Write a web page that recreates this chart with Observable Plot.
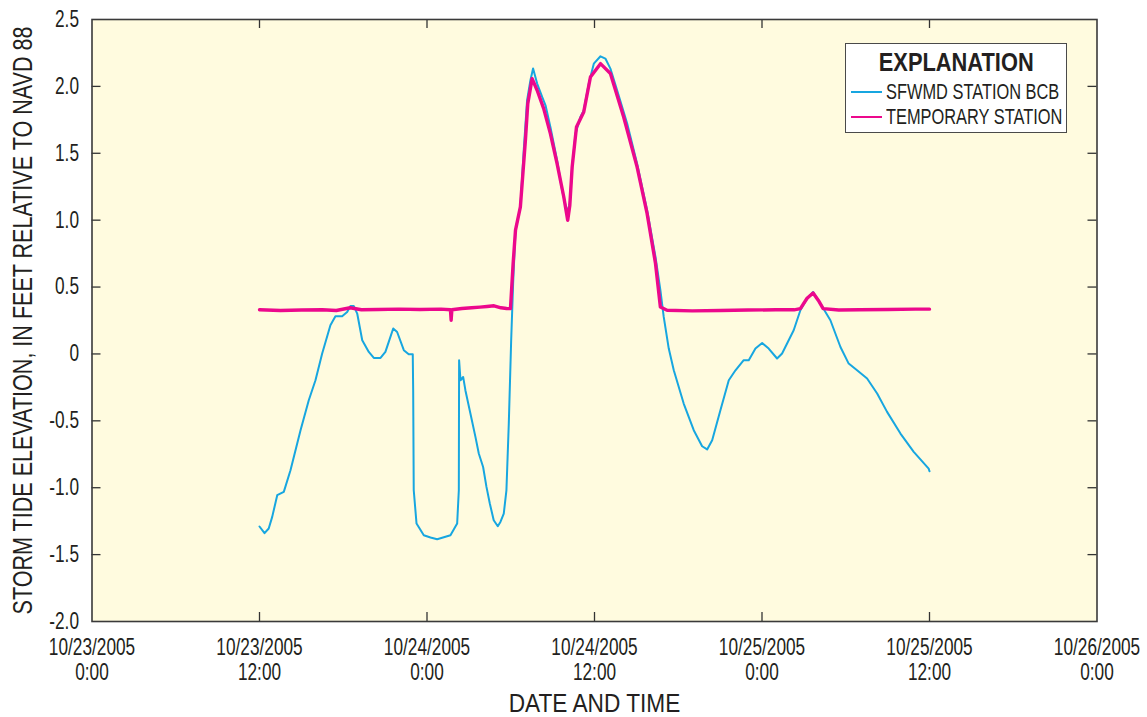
<!DOCTYPE html>
<html>
<head>
<meta charset="utf-8">
<script src="https://cdn.jsdelivr.net/npm/d3@7"></script>
<script src="https://cdn.jsdelivr.net/npm/@observablehq/plot@0.6"></script>
<style>
  html, body { margin: 0; padding: 0; background: #ffffff; }
  #wrap { position: relative; width: 1147px; height: 717px; }
  #legend {
    position: absolute; left: 845px; top: 43px; width: 222px; height: 90px; box-sizing: border-box;
    background: #ffffff; border: 1.5px solid #4a4a4a;
    font-family: "Liberation Sans", Arial, sans-serif; color: #231f20;
  }
  #legend .title { position: absolute; left: 0; width: 100%; top: 6px; text-align: center;
    font-weight: bold; font-size: 26px; line-height: 25px; white-space: nowrap; }
  #legend .title span { display: inline-block; transform: scaleX(0.84); transform-origin: center center; }
  #legend .sw { position: absolute; left: 5px; width: 31px; height: 0; border-top: 2px solid; }
  #legend .lab { position: absolute; left: 40px; font-size: 22px; line-height: 22px; white-space: nowrap;
    transform: scaleX(0.745); transform-origin: left center; }
</style>
</head>
<body>
<div id="wrap"></div>
<script>
// hours after 10/23/2005 0:00, water level (ft, NAVD 88)
const sfwmdHours = [12.0,12.36,12.66,12.91,13.27,13.74,14.22,14.94,15.53,16.01,16.49,17.08,17.44,17.92,18.28,18.52,18.75,19.00,19.36,19.83,20.19,20.67,21.02,21.26,21.58,21.86,22.34,22.69,22.98,23.01,23.05,23.25,23.77,24.25,24.73,25.68,26.16,26.28,26.29,26.30,26.40,26.59,26.75,27.11,27.47,27.71,28.02,28.26,28.50,28.78,29.07,29.26,29.50,29.69,29.86,30.03,30.17,30.34,30.69,30.93,31.17,31.41,31.60,31.89,32.25,32.49,32.84,33.32,33.68,34.04,34.23,34.40,34.64,34.99,35.23,35.59,35.95,36.43,36.78,37.14,37.62,38.34,39.05,39.77,40.37,40.72,40.96,41.32,41.68,42.39,43.11,43.71,44.07,44.43,45.02,45.62,46.10,46.69,47.05,47.53,48.01,48.48,49.08,49.44,50.27,50.75,51.23,51.66,52.18,52.90,53.62,54.21,54.81,55.53,56.25,56.96,57.92,58.87,59.94,60.0];
const sfwmdValues = [-1.29,-1.34,-1.305,-1.218,-1.056,-1.031,-0.869,-0.570,-0.346,-0.197,0.003,0.214,0.282,0.282,0.314,0.359,0.359,0.302,0.102,0.015,-0.030,-0.030,0.015,0.090,0.190,0.164,0.028,-0.002,-0.002,-0.271,-1.019,-1.268,-1.355,-1.372,-1.385,-1.355,-1.268,-1.019,-0.520,-0.047,-0.197,-0.172,-0.271,-0.445,-0.620,-0.744,-0.845,-0.994,-1.118,-1.243,-1.288,-1.256,-1.193,-1.019,-0.520,0.102,0.526,0.925,1.099,1.522,1.896,2.046,2.133,2.021,1.921,1.859,1.697,1.448,1.223,1.061,1.124,1.398,1.647,1.771,1.821,2.021,2.170,2.225,2.208,2.133,1.971,1.722,1.423,1.074,0.725,0.476,0.277,0.040,-0.122,-0.371,-0.570,-0.690,-0.714,-0.645,-0.421,-0.197,-0.122,-0.047,-0.047,0.040,0.082,0.040,-0.034,0.003,0.177,0.327,0.414,0.463,0.377,0.252,0.052,-0.072,-0.122,-0.184,-0.296,-0.433,-0.595,-0.732,-0.857,-0.877];

const tempHours = [12.0,13.5,15.0,16.5,17.5,18.5,19.3,20.5,22.0,23.5,25.0,25.68,25.73,25.78,26.5,27.2,27.8,28.3,28.8,29.3,29.7,29.98,30.17,30.34,30.69,31.05,31.22,31.53,31.89,32.36,32.84,33.32,33.80,34.08,34.23,34.40,34.71,35.23,35.71,36.43,37.14,38.09,39.05,39.77,40.37,40.72,41.20,43.0,45.0,47.0,49.0,50.3,50.75,51.23,51.66,52.04,52.38,53.5,55.0,57.0,59.0,60.0];
const tempValues = [0.330,0.325,0.328,0.330,0.325,0.345,0.330,0.332,0.335,0.332,0.335,0.330,0.252,0.330,0.340,0.345,0.350,0.355,0.360,0.345,0.340,0.339,0.676,0.925,1.099,1.597,1.871,2.058,1.971,1.834,1.647,1.423,1.173,0.999,1.110,1.398,1.697,1.809,2.070,2.170,2.096,1.771,1.398,1.049,0.676,0.351,0.327,0.322,0.325,0.328,0.330,0.330,0.339,0.416,0.456,0.400,0.339,0.328,0.330,0.332,0.335,0.335];

const xTickHours = [0, 12, 24, 36, 48, 60, 72];
const yTicks = [-2.0, -1.5, -1.0, -0.5, 0, 0.5, 1.0, 1.5, 2.0, 2.5];
const seriesNames = ["SFWMD STATION BCB", "TEMPORARY STATION"];
const seriesColors = ["#17a6e0", "#ec088c"];
const yLabel = "STORM TIDE ELEVATION, IN FEET RELATIVE TO NAVD 88";
const xLabel = "DATE AND TIME";

const t0 = Date.UTC(2005, 9, 23, 0, 0);
const toDate = h => new Date(t0 + h * 3600e3);
const sfwmd = sfwmdHours.map((h, i) => ({date: toDate(h), value: sfwmdValues[i]}));
const temp = tempHours.map((h, i) => ({date: toDate(h), value: tempValues[i]}));
const xTicks = xTickHours.map(toDate);
const innerX = xTicks.slice(1, -1);
const innerY = yTicks.slice(1, -1);

const W = 1147, H = 717;
const mL = 91.5, mR = 50.5, mT = 19, mB = 96;
const fw = W - mL - mR, fh = H - mT - mB;
const tick = 9;
const ink = "#231f20";
const font = '"Liberation Sans", Arial, sans-serif';
const fmtDate = d3.utcFormat("%m/%d/%Y");
const fmtTime = d3.utcFormat("%-H:%M");

// font sizes and horizontal condensing factors (mimic a condensed face)
const TICK_FS = 23, YLAB_FS = 28, XLAB_FS = 26.5;
const condenseBySize = {[TICK_FS]: 0.75, [YLAB_FS]: 0.77, [XLAB_FS]: 0.855};

const chart = Plot.plot({
  width: W, height: H,
  marginLeft: mL, marginRight: mR, marginTop: mT, marginBottom: mB,
  style: {fontFamily: font, background: "#ffffff", color: ink},
  x: {type: "utc", domain: [xTicks[0], xTicks[xTicks.length - 1]], axis: null},
  y: {domain: [-2.0, 2.5], axis: null},
  marks: [
    Plot.frame({fill: "#fffbdf", stroke: null}),
    Plot.line(sfwmd, {x: "date", y: "value", stroke: seriesColors[0], strokeWidth: 2, curve: "linear"}),
    Plot.line(temp, {x: "date", y: "value", stroke: seriesColors[1], strokeWidth: 3.4, curve: "linear"}),
    // inward ticks on all four sides
    Plot.ruleX(innerX, {x: d => d, insetTop: fh - tick, stroke: "#333", strokeWidth: 1.3}),
    Plot.ruleX(innerX, {x: d => d, insetBottom: fh - tick, stroke: "#333", strokeWidth: 1.3}),
    Plot.ruleY(innerY, {y: d => d, insetRight: fw - tick, stroke: "#333", strokeWidth: 1.3}),
    Plot.ruleY(innerY, {y: d => d, insetLeft: fw - tick, stroke: "#333", strokeWidth: 1.3}),
    Plot.frame({stroke: "#3a3a3a", strokeWidth: 1.6}),
    // tick labels
    Plot.text(xTicks, {x: d => d, text: d => fmtDate(d) + "\n" + fmtTime(d), frameAnchor: "bottom",
      dy: 16, lineAnchor: "top", textAnchor: "middle", lineHeight: 1.087, fontSize: TICK_FS, fill: ink}),
    Plot.text(yTicks, {y: d => d, text: d => d === 0 ? "0" : d.toFixed(1), frameAnchor: "left",
      dx: -13, textAnchor: "end", lineAnchor: "middle", fontSize: TICK_FS, fill: ink}),
    // axis titles
    Plot.text([yLabel], {frameAnchor: "left", dx: -69, rotate: -90, textAnchor: "middle", lineAnchor: "middle",
      fontSize: YLAB_FS, fill: ink}),
    Plot.text([xLabel], {frameAnchor: "bottom", dy: 82, textAnchor: "middle", lineAnchor: "middle",
      fontSize: XLAB_FS, fill: ink})
  ]
});

const wrap = document.getElementById("wrap");
wrap.appendChild(chart);

// condense glyphs horizontally (scale along the text direction about each text's anchor)
const svg = wrap.querySelector("svg");
svg.querySelectorAll("text").forEach(t => {
  const g = t.closest("[font-size]");
  const fs = g ? parseFloat(g.getAttribute("font-size")) : NaN;
  const f = condenseBySize[fs];
  if (!f) return;
  const tr = t.getAttribute("transform");
  const hasXY = (+t.getAttribute("x") || 0) !== 0 || (+t.getAttribute("y") || 0) !== 0;
  if (tr && !hasXY) {
    t.setAttribute("transform", tr + ` scale(${f},1)`);
  } else {
    const parts = t.querySelectorAll("tspan");
    const targets = parts.length ? Array.from(parts) : [t];
    targets.forEach(el => {
      const len = el.getComputedTextLength();
      el.setAttribute("textLength", (len * f).toFixed(2));
      el.setAttribute("lengthAdjust", "spacingAndGlyphs");
    });
  }
});

const legend = document.createElement("div");
legend.id = "legend";
const rowTops = [37, 62];
legend.innerHTML = `<div class="title"><span>EXPLANATION</span></div>` +
  seriesNames.map((n, i) =>
    `<div class="sw" style="top:${rowTops[i] + 10}px;border-color:${seriesColors[i]}"></div>` +
    `<div class="lab" style="top:${rowTops[i]}px">${n}</div>`).join("");
wrap.appendChild(legend);
</script>
</body>
</html>
